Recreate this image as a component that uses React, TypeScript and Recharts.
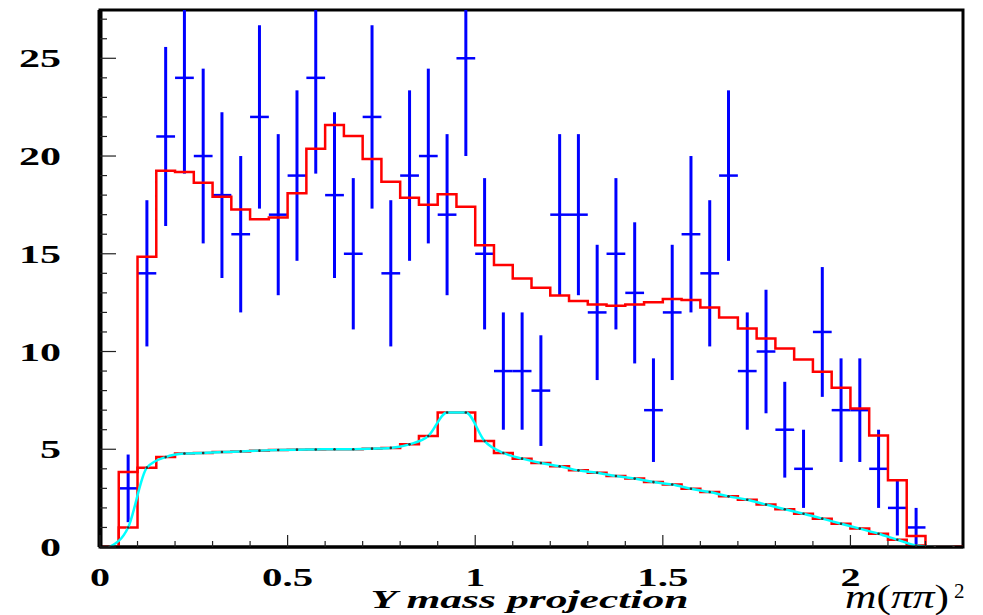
import {
  ComposedChart,
  Line,
  Scatter,
  ErrorBar,
  XAxis,
  YAxis,
  ReferenceArea,
} from "recharts";

const BIN = 0.05;
const X_MAX = 2.3;
const Y_MAX = 27.47;

// event counts, first bin is [0.05, 0.10]
const counts = [
  3, 14, 21, 24, 20, 18, 16, 22, 17, 19, 24, 18, 15, 22, 14, 19, 20, 17, 25, 15,
  9, 9, 8, 17, 17, 12, 15, 13, 7, 12, 16, 14, 19, 9, 10, 6, 4, 11, 7, 7, 4, 2, 1,
];
const countErr = [
  1.73, 3.74, 4.58, 4.9, 4.47, 4.24, 4.0, 4.69, 4.12, 4.36, 4.9, 4.24, 3.87, 4.69,
  3.74, 4.36, 4.47, 4.12, 5.0, 3.87, 3.0, 3.0, 2.83, 4.12, 4.12, 3.46, 3.87, 3.61,
  2.65, 3.46, 4.0, 3.74, 4.36, 3.0, 3.16, 2.45, 2.0, 3.32, 2.65, 2.65, 2.0, 1.41, 1.0,
];

// fit projection, one value per bin from 0 to 2.3
const fitTotal = [
  0, 3.84, 14.85, 19.25, 19.18, 18.63, 17.92, 17.27, 16.77, 16.86, 18.1, 20.37,
  21.59, 21.02, 19.85, 18.68, 17.87, 17.51, 18.04, 17.4, 15.44, 14.42, 13.74,
  13.26, 12.87, 12.59, 12.41, 12.34, 12.41, 12.52, 12.68, 12.63, 12.25, 11.74,
  11.18, 10.66, 10.15, 9.59, 8.96, 8.14, 7.08, 5.71, 3.41, 0.56, 0, 0,
];
const fitComponent = [
  0, 1.0, 4.06, 4.6, 4.78, 4.81, 4.86, 4.89, 4.93, 4.96, 4.98, 4.99, 5.0, 5.0,
  5.03, 5.07, 5.25, 5.68, 6.88, 6.88, 5.42, 4.81, 4.52, 4.3, 4.13, 3.92, 3.8,
  3.63, 3.5, 3.32, 3.2, 2.98, 2.81, 2.59, 2.42, 2.17, 1.93, 1.7, 1.45, 1.19, 0.94,
  0.68, 0.37, 0.08, 0, 0,
];

const xTicks = [
  0, 0.1, 0.2, 0.3, 0.4, 0.5, 0.6, 0.7, 0.8, 0.9, 1, 1.1, 1.2, 1.3, 1.4, 1.5, 1.6,
  1.7, 1.8, 1.9, 2, 2.1, 2.2,
];
const xLabelled = [0, 0.5, 1, 1.5, 2];
const yTicks = [
  0, 1, 2, 3, 4, 5, 6, 7, 8, 9, 10, 11, 12, 13, 14, 15, 16, 17, 18, 19, 20, 21, 22,
  23, 24, 25, 26, 27,
];

const r3 = (v: number) => Math.round(v * 1000) / 1000;

const points = counts.map((n, i) => ({
  x: r3(1.5 * BIN + i * BIN),
  y: n,
  ey: countErr[i],
  ex: BIN / 2,
}));

// stepAfter needs the low edge of every bin plus the closing edge
const toSteps = (vals: number[]) => [
  ...vals.map((v, i) => ({ x: r3(i * BIN), y: v })),
  { x: X_MAX, y: vals[vals.length - 1] },
];
const totalSteps = toSteps(fitTotal);
const compSteps = toSteps(fitComponent);
const compCurve = fitComponent.map((v, i) => ({ x: r3(BIN / 2 + i * BIN), y: v }));

const labelFont = "'Liberation Serif', 'Times New Roman', serif";

// plot box in chart pixels, used to clip the error bars at the frame
const PLOT = { x: 100, y: 10, w: 863, h: 537 };

function YTick({ x, y, payload }: any) {
  const v = payload.value;
  const major = v % 5 === 0;
  const s = String(v);
  return (
    <g>
      <line x1={x} x2={x + (major ? 16 : 7)} y1={y} y2={y} stroke="#222" strokeWidth={1.2} />
      {major && (
        <text
          x={x - 39}
          y={y + 9}
          textAnchor="end"
          fontFamily={labelFont}
          fontWeight="bold"
          fontSize={26}
          textLength={21 * s.length}
          lengthAdjust="spacingAndGlyphs"
          fill="#000"
        >
          {s}
        </text>
      )}
    </g>
  );
}

function XTick({ x, y, payload }: any) {
  const v = payload.value;
  const major = xLabelled.includes(v);
  const s = String(v);
  const len = s.replace(".", "").length * 20 + (s.includes(".") ? 11 : 0);
  return (
    <g>
      <line x1={x} x2={x} y1={y} y2={y - (major ? 12 : 6)} stroke="#222" strokeWidth={1.2} />
      {major && (
        <text
          x={x}
          y={y + 39}
          textAnchor="middle"
          fontFamily={labelFont}
          fontWeight="bold"
          fontSize={26}
          textLength={len}
          lengthAdjust="spacingAndGlyphs"
          fill="#000"
        >
          {s}
        </text>
      )}
    </g>
  );
}

function AxisTitles({ viewBox }: any) {
  const { x, y, width } = viewBox;
  return (
    <g fill="#000">
      <text
        x={x + width / 2 - 2}
        y={y + 61}
        textAnchor="middle"
        fontFamily={labelFont}
        fontWeight="bold"
        fontStyle="italic"
        fontSize={25}
        textLength={318}
        lengthAdjust="spacingAndGlyphs"
      >
        Y mass projection
      </text>
      <text
        x={x + 745}
        y={y + 61}
        fontFamily={labelFont}
        fontSize={34}
        textLength={104}
        lengthAdjust="spacingAndGlyphs"
      >
        <tspan fontStyle="italic">m</tspan>(<tspan fontStyle="italic">ππ</tspan>)
      </text>
      <text x={x + 854} y={y + 51} fontFamily={labelFont} fontSize={21}>
        2
      </text>
    </g>
  );
}

export default function App() {
  return (
    <div style={{ position: "absolute", left: 0, top: 0, background: "#fff" }}>
      <svg width={0} height={0} style={{ position: "absolute" }}>
        <defs>
          <clipPath id="plot-frame-clip" clipPathUnits="userSpaceOnUse">
            <rect x={PLOT.x} y={PLOT.y} width={PLOT.w} height={PLOT.h} />
          </clipPath>
        </defs>
      </svg>
      <style>{`.recharts-errorBars { clip-path: url(#plot-frame-clip); }`}</style>
      <ComposedChart
        width={983}
        height={615}
        margin={{ top: 10, right: 20, bottom: 0, left: 0 }}
      >
        <XAxis
          dataKey="x"
          type="number"
          domain={[0, X_MAX]}
          allowDataOverflow
          ticks={xTicks}
          interval={0}
          tickSize={0}
          tickMargin={0}
          tick={<XTick />}
          height={68}
          axisLine={{ stroke: "#000", strokeWidth: 3 }}
          label={{ content: (p: any) => <AxisTitles {...p} /> }}
        />
        <YAxis
          dataKey="y"
          type="number"
          domain={[0, Y_MAX]}
          allowDataOverflow
          ticks={yTicks}
          interval={0}
          tickSize={0}
          tickMargin={0}
          tick={<YTick />}
          width={100}
          axisLine={{ stroke: "#000", strokeWidth: 5 }}
        />
        <ReferenceArea
          x1={0}
          x2={X_MAX}
          y1={0}
          y2={Y_MAX}
          fill="none"
          stroke="#000"
          strokeWidth={3}
          fillOpacity={0}
        />
        <Scatter data={points} dataKey="y" shape={() => <g />} isAnimationActive={false}>
          <ErrorBar dataKey="ey" direction="y" width={0} stroke="#0000ff" strokeWidth={3} />
          <ErrorBar dataKey="ex" direction="x" width={0} stroke="#0000ff" strokeWidth={2.5} />
        </Scatter>
        <Line
          data={totalSteps}
          dataKey="y"
          type="stepAfter"
          stroke="#ff0000"
          strokeWidth={2.5}
          dot={false}
          activeDot={false}
          isAnimationActive={false}
        />
        <Line
          data={compSteps}
          dataKey="y"
          type="stepAfter"
          stroke="#ff0000"
          strokeWidth={2.5}
          dot={false}
          activeDot={false}
          isAnimationActive={false}
        />
        <Line
          data={compCurve}
          dataKey="y"
          type="monotone"
          stroke="#00ffff"
          strokeWidth={2.5}
          dot={{ r: 1.3, fill: "#333", stroke: "none" }}
          activeDot={false}
          isAnimationActive={false}
        />
      </ComposedChart>
    </div>
  );
}
